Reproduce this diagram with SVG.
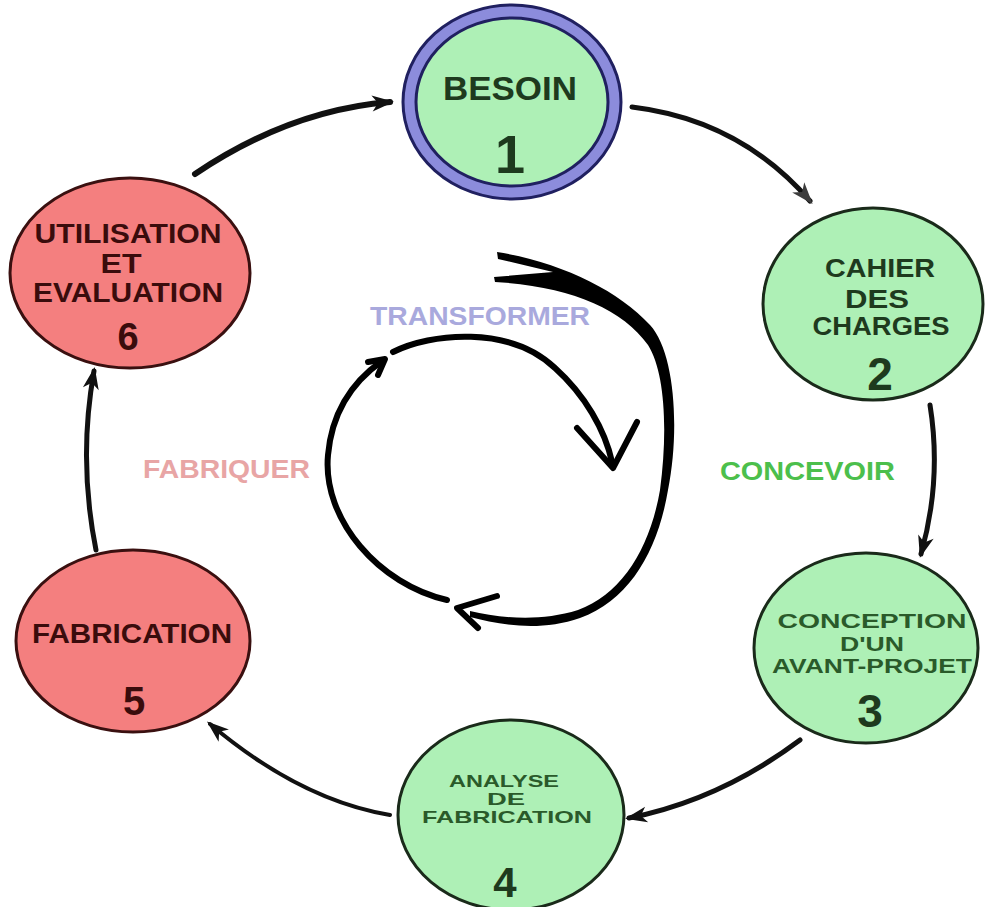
<svg xmlns="http://www.w3.org/2000/svg" width="986" height="907" viewBox="0 0 986 907">
<style>
.g{fill:#aef0b6;stroke:#1a2a1a;stroke-width:3}
.r{fill:#f47f7f;stroke:#3a1010;stroke-width:3}
.tg{font-family:"Liberation Sans",Arial,sans-serif;font-weight:bold;fill:#1e3a1e;text-anchor:middle}
.tg2{font-family:"Liberation Sans",Arial,sans-serif;font-weight:bold;fill:#2a5a2a;text-anchor:middle}
.tr{font-family:"Liberation Sans",Arial,sans-serif;font-weight:bold;fill:#3a0c0c;text-anchor:middle}
.lbl{font-family:"Liberation Sans",Arial,sans-serif;font-weight:bold}
.c{fill:none;stroke:#111;stroke-linecap:round}
.ih{fill:none;stroke:#000;stroke-width:6;stroke-linecap:round;stroke-linejoin:round}
</style>
<defs>
<marker id="ah" markerUnits="userSpaceOnUse" markerWidth="22" markerHeight="16" refX="18" refY="8" orient="auto" overflow="visible">
<path d="M0,0 L22,8 L0,16 L6,8 Z" fill="#111"/>
</marker>
<marker id="ahg" markerUnits="userSpaceOnUse" markerWidth="22" markerHeight="16" refX="18" refY="8" orient="auto" overflow="visible">
<path d="M0,0 L22,8 L0,16 L6,8 Z" fill="#3c3c3c"/>
</marker>
</defs>
<rect width="986" height="907" fill="#fff"/>

<g id="node1">
<ellipse cx="512" cy="102" rx="109" ry="97" fill="#8c8cdc" stroke="#202060" stroke-width="3"/>
<ellipse cx="512" cy="102" rx="96" ry="84" fill="#aef0b6" stroke="#202060" stroke-width="3"/>
<text class="tg" x="510" y="100" font-size="33" textLength="134" lengthAdjust="spacingAndGlyphs">BESOIN</text>
<text class="tg" x="510" y="173" font-size="54">1</text>
</g>

<g id="node2">
<ellipse class="g" cx="873" cy="304" rx="110" ry="96"/>
<text class="tg" x="880" y="277" font-size="25" textLength="110" lengthAdjust="spacingAndGlyphs">CAHIER</text>
<text class="tg" x="877" y="308" font-size="25" textLength="64" lengthAdjust="spacingAndGlyphs">DES</text>
<text class="tg" x="881" y="335" font-size="25" textLength="137" lengthAdjust="spacingAndGlyphs">CHARGES</text>
<text class="tg" x="880" y="390" font-size="46">2</text>
</g>

<g id="node3">
<ellipse class="g" cx="866" cy="648" rx="112" ry="95"/>
<text class="tg2" x="872" y="628" font-size="20" textLength="189" lengthAdjust="spacingAndGlyphs">CONCEPTION</text>
<text class="tg2" x="872" y="651" font-size="20" textLength="64" lengthAdjust="spacingAndGlyphs">D'UN</text>
<text class="tg2" x="872" y="673" font-size="20" textLength="200" lengthAdjust="spacingAndGlyphs">AVANT-PROJET</text>
<text class="tg" x="870" y="727" font-size="46">3</text>
</g>

<g id="node4">
<ellipse class="g" cx="511" cy="815" rx="113" ry="95"/>
<text class="tg2" x="504" y="787" font-size="17" textLength="110" lengthAdjust="spacingAndGlyphs">ANALYSE</text>
<text class="tg2" x="506" y="805" font-size="17" textLength="38" lengthAdjust="spacingAndGlyphs">DE</text>
<text class="tg2" x="507" y="823" font-size="17" textLength="170" lengthAdjust="spacingAndGlyphs">FABRICATION</text>
<text class="tg" x="505" y="897" font-size="42">4</text>
</g>

<g id="node5">
<ellipse class="r" cx="133" cy="641" rx="117" ry="91"/>
<text class="tr" x="132" y="643" font-size="28" textLength="200" lengthAdjust="spacingAndGlyphs">FABRICATION</text>
<text class="tr" x="134" y="715" font-size="40">5</text>
</g>

<g id="node6">
<ellipse class="r" cx="130" cy="273" rx="120" ry="95"/>
<text class="tr" x="128" y="243" font-size="28" textLength="187" lengthAdjust="spacingAndGlyphs">UTILISATION</text>
<text class="tr" x="121" y="273" font-size="28" textLength="41" lengthAdjust="spacingAndGlyphs">ET</text>
<text class="tr" x="128" y="302" font-size="28" textLength="190" lengthAdjust="spacingAndGlyphs">EVALUATION</text>
<text class="tr" x="128" y="350" font-size="38">6</text>
</g>

<g id="labels">
<text class="lbl" x="370" y="325" font-size="26" fill="#a9a9dd" textLength="220" lengthAdjust="spacingAndGlyphs">TRANSFORMER</text>
<text class="lbl" x="143" y="478" font-size="26" fill="#e8a5a5" textLength="167" lengthAdjust="spacingAndGlyphs">FABRIQUER</text>
<text class="lbl" x="720" y="480" font-size="26" fill="#4cbf4c" textLength="175" lengthAdjust="spacingAndGlyphs">CONCEVOIR</text>
</g>

<g id="connectors">
<path class="c" d="M195,174 Q290,110 390,102" stroke-width="6" marker-end="url(#ah)"/>
<path class="c" d="M632,107 Q740,120 810,201" stroke="#3c3c3c" stroke-width="5" marker-end="url(#ahg)"/>
<path class="c" d="M930,405 Q942,480 921,554" stroke-width="5" marker-end="url(#ah)"/>
<path class="c" d="M800,740 Q720,800 629,818" stroke-width="5" marker-end="url(#ah)"/>
<path class="c" d="M390,815 Q300,800 210,724" stroke-width="4" marker-end="url(#ah)"/>
<path class="c" d="M96,550 Q78,460 94,371" stroke-width="5" marker-end="url(#ah)"/>

<path d="M497,252 C560,262 618,290 650,325 C675,352 680,430 668,490 C658,550 630,600 580,618 C540,632 500,625 470,617 L470,611 C500,618 540,622 578,610 C622,594 650,548 660,490 C668,430 665,372 648,345 C622,308 568,286 495,282 L494,277 L553,272 L498,259 Z" fill="#000"/>
<path class="ih" d="M497,596 L457,608 L478,628" stroke-width="5"/>

<path class="ih" d="M447,600 C380,585 322,520 328,455 C332,410 355,380 382,361"/>
<path class="ih" d="M368,362 L385,359 L378,375" stroke-width="5"/>

<path class="ih" d="M393,352 C430,333 510,325 555,368 C585,395 605,430 612,462"/>
<path class="ih" d="M577,428 L613,468 L637,422"/>
</g>
</svg>
